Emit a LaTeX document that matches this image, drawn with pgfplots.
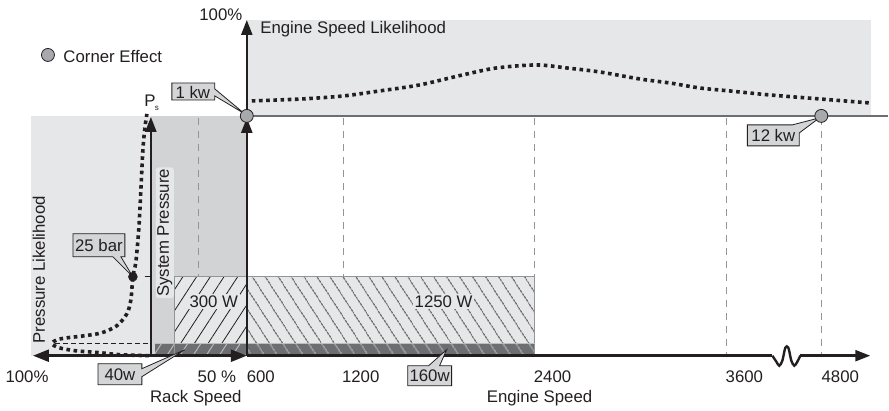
\documentclass[border=0pt]{standalone}
\usepackage{pgfplots}
\pgfplotsset{compat=1.18}
\usepackage{fontspec}
\setmainfont{Liberation Sans}
\usetikzlibrary{arrows.meta,patterns.meta}
\definecolor{bgl}{HTML}{E6E7E8}
\definecolor{bgd}{HTML}{D1D3D4}
\definecolor{strip}{HTML}{6D6E71}
\definecolor{dashc}{HTML}{939598}
\definecolor{circ}{HTML}{A7A9AC}
\definecolor{ink}{HTML}{231F20}
\definecolor{callout}{HTML}{D4D5D7}
\definecolor{hatchl}{HTML}{BCBEC0}
\begin{document}
\begin{tikzpicture}[font=\fontsize{16.8}{19}\selectfont, text=ink]
\begin{axis}[x=1pt,y=1pt,xmin=0,xmax=889,ymin=0,ymax=411,y dir=reverse,
  hide axis,clip=false,no markers,
  dotc/.style={ink,line width=3.6pt,dash pattern=on 3.6pt off 3.6pt},
  vdash/.style={dashc,line width=1pt,dash pattern=on 7pt off 6pt},
  axl/.style={ink,line width=2.4pt},
  arr/.style={-{Triangle[length=15pt,width=11pt]}},
  co/.style={fill=callout,draw=ink,line width=0.8pt}]
\addplot[draw=none] coordinates {(0,0) (889,411)};
% backgrounds
\addplot[fill=bgl,draw=none] coordinates {(247,20)(872,20)(872,116)(247,116)} -- cycle;
\addplot[fill=bgl,draw=none] coordinates {(31,116)(247,116)(247,356)(31,356)} -- cycle;
\addplot[fill=bgd,draw=none] coordinates {(151,116)(247,116)(247,356)(151,356)} -- cycle;
% dashed verticals
\addplot[vdash] coordinates {(199,118)(199,356)};
\addplot[vdash] coordinates {(344,118)(344,356)};
\addplot[vdash] coordinates {(535,118)(535,356)};
\addplot[vdash] coordinates {(727,118)(727,356)};
\addplot[vdash] coordinates {(822,118)(822,356)};
% horizontal line at top region
\addplot[strip,line width=1.5pt] coordinates {(247,116)(889,116)};
% bars
\addplot[fill=bgl,draw=none] coordinates {(175,277)(247,277)(247,344)(175,344)} -- cycle;
\addplot[draw=none,pattern={Lines[angle=57,distance=11.5pt,line width=0.8pt]},pattern color=ink] coordinates {(175,277)(247,277)(247,344)(175,344)} -- cycle;
\addplot[fill=bgl,draw=none] coordinates {(247,277)(535,277)(535,344)(247,344)} -- cycle;
\addplot[draw=none,pattern={Lines[angle=-57,distance=10.5pt,line width=0.8pt]},pattern color=ink] coordinates {(247,277)(535,277)(535,344)(247,344)} -- cycle;
\addplot[fill=strip,draw=none] coordinates {(155,344)(247,344)(247,356)(155,356)} -- cycle;
\addplot[draw=none,pattern={Lines[angle=57,distance=11pt,line width=0.9pt]},pattern color=hatchl] coordinates {(155,344)(247,344)(247,356)(155,356)} -- cycle;
\addplot[fill=strip,draw=none] coordinates {(247,344)(535,344)(535,356)(247,356)} -- cycle;
\addplot[draw=none,pattern={Lines[angle=-57,distance=10.5pt,line width=0.9pt]},pattern color=hatchl] coordinates {(247,344)(535,344)(535,356)(247,356)} -- cycle;
\addplot[dashc,line width=0.9pt] coordinates {(175,356)(175,277)(535,277)(535,356)};
\addplot[hatchl,line width=0.8pt] coordinates {(155,344)(535,344)};
% small dashed horizontal and tick
\addplot[ink,line width=0.8pt,dash pattern=on 5pt off 3pt] coordinates {(55,344)(151,344)};
\addplot[ink,line width=0.8pt] coordinates {(145,277)(151,277)};
% engine speed likelihood curve
\addplot[dotc,smooth] coordinates {(252,101)(303,99)(344,96)(380,91)(420,85)(463,75)(497,68)(537,65)(567,68)(600,72)(640,79)(670,83)(700,88)(730,91)(770,95)(820,99)(870,103)};
% pressure likelihood curve
\addplot[dotc,smooth] coordinates {(149,356)(120,355)(100,353)(75,351)(59,348)(52,344)(57,340)(68,338)(85,336)(102,333)(117,326)(127,314)(131,300)(133,277)(136,262)(139,228)(141,190)(143,150)(145,128)(147,114)};
% axes
\addplot[axl,{Triangle[length=16pt,width=12pt]}-{Triangle[length=16pt,width=12pt]}] coordinates {(33,356)(247,356)};
\addplot[axl] coordinates {(247,356)(773,356)};
\addplot[axl,smooth] coordinates {(773,356)(777,362)(780,366)(783,361)(786,348)(789,348)(792,361)(795,366)(798,362)(801,356)};
\addplot[axl,arr] coordinates {(801,356)(871,356)};
\addplot[axl,arr] coordinates {(247,356)(247,118)};
\addplot[axl,arr] coordinates {(247,118)(247,20)};
\addplot[axl,arr] coordinates {(151,356)(151,117)};
% callouts
\addplot[co] coordinates {(172,83)(215,83)(215,89)(245,114)(215,96)(215,100)(172,100)} -- cycle;
\addplot[co] coordinates {(73,234)(125,234)(125,257)(121,257)(133,277)(113,257)(73,257)} -- cycle;
\addplot[co] coordinates {(98,364)(142,364)(142,369)(185,350)(142,377)(142,385)(98,385)} -- cycle;
\addplot[co] coordinates {(408,366)(429,366)(447,350)(440,366)(452,366)(452,386)(408,386)} -- cycle;
\addplot[co] coordinates {(748,125)(793,125)(820,118)(800,133)(800,146)(748,146)} -- cycle;
% markers
\addplot[only marks,mark=*,mark size=6.5pt,mark options={fill=circ,draw=ink,line width=0.8pt}] coordinates {(247,116)(822,116)(48,55)};
\addplot[only marks,mark=*,mark size=4.5pt,mark options={fill=ink,draw=ink}] coordinates {(133,277)};
% texts
\node at (axis cs:221,15) {100\%};
\node[anchor=west] at (axis cs:257,29) {Engine Speed Likelihood};
\node[anchor=west] at (axis cs:60,57) {Corner Effect};
\node at (axis cs:150,101) {P};
\node[font=\fontsize{8}{9}\selectfont] at (axis cs:157,108) {s};
\node[rotate=90] at (axis cs:39,270) {Pressure Likelihood};
\node[rotate=90,fill=bgl,rounded corners=3pt,inner sep=1.5pt] at (axis cs:165,233) {System Pressure};
\node[fill=bgl,inner sep=1.5pt] at (axis cs:214,302) {300 W};
\node[fill=bgl,inner sep=1.5pt] at (axis cs:444,302) {1250 W};
\node at (axis cs:193,92) {1 kw};
\node at (axis cs:99,246) {25 bar};
\node at (axis cs:120,375) {40w};
\node at (axis cs:430,376) {160w};
\node at (axis cs:774,136) {12 kw};
\node at (axis cs:27,377) {100\%};
\node at (axis cs:217,377) {50 \%};
\node at (axis cs:261,377) {600};
\node at (axis cs:361,377) {1200};
\node at (axis cs:553,377) {2400};
\node at (axis cs:745,377) {3600};
\node at (axis cs:841,377) {4800};
\node at (axis cs:196,398) {Rack Speed};
\node at (axis cs:540,398) {Engine Speed};
\end{axis}
\end{tikzpicture}
\end{document}
